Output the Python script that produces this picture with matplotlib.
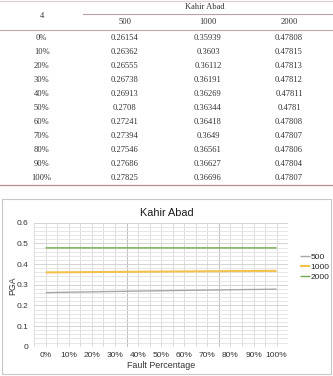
import matplotlib
matplotlib.use("Agg")
import matplotlib.pyplot as plt
from matplotlib.lines import Line2D
from matplotlib.patches import Rectangle
from matplotlib.ticker import MultipleLocator, FixedLocator

# ---- data ----
site = "Kahir Abad"
corner_label = "4"
categories = ["0%", "10%", "20%", "30%", "40%", "50%", "60%", "70%", "80%", "90%", "100%"]
series_names = ["500", "1000", "2000"]
pga_500 = [0.26154, 0.26362, 0.26555, 0.26738, 0.26913, 0.2708, 0.27241, 0.27394, 0.27546, 0.27686, 0.27825]
pga_1000 = [0.35939, 0.3603, 0.36112, 0.36191, 0.36269, 0.36344, 0.36418, 0.3649, 0.36561, 0.36627, 0.36696]
pga_2000 = [0.47808, 0.47815, 0.47813, 0.47812, 0.47811, 0.4781, 0.47808, 0.47807, 0.47806, 0.47804, 0.47807]
series = [pga_500, pga_1000, pga_2000]
colors = ["#a6a6a6", "#f2c14e", "#6fa84a"]
widths = [1.0, 1.5, 1.0]
y_ticks = [0, 0.1, 0.2, 0.3, 0.4, 0.5, 0.6]
y_tick_labels = ["0", "0.1", "0.2", "0.3", "0.4", "0.5", "0.6"]

W, H = 333, 376
fig = plt.figure(figsize=(W / 100, H / 100), dpi=100)

def fx(x):
    return x / W

def fy(y):
    return 1 - y / H

serif = ["Liberation Serif", "DejaVu Serif"]
sans = ["Liberation Sans", "DejaVu Sans"]
tcol = "#333333"

# ---- table ----
def hline(x0, x1, y, color, lw=0.8):
    fig.add_artist(Line2D([fx(x0), fx(x1)], [fy(y), fy(y)], transform=fig.transFigure,
                          color=color, lw=lw))

hline(0, W, 1.0, "#dccfcf", 0.9)
hline(83, W, 14.0, "#b7a3a3", 0.8)
hline(0, W, 30.0, "#c4a6a6", 0.8)
hline(0, W, 185.0, "#b98c8c", 0.9)

col_x = [41.7, 125, 208, 289]
tfs = 6.1
fig.text(fx(col_x[0]), fy(15.7), corner_label, ha="center", va="center", fontsize=tfs,
         family=serif, color=tcol)
fig.text(fx(205), fy(6.7), site, ha="center", va="center", fontsize=tfs, family=serif, color=tcol)
for name, cx in zip(series_names, col_x[1:]):
    fig.text(fx(cx), fy(21.7), name, ha="center", va="center", fontsize=tfs, family=serif, color=tcol)

row_y0, row_dy = 37.7, 14.06
for i, cat in enumerate(categories):
    ry = row_y0 + i * row_dy
    fig.text(fx(col_x[0]), fy(ry), cat, ha="center", va="center", fontsize=tfs, family=serif, color=tcol)
    for s, cx in zip(series, col_x[1:]):
        fig.text(fx(cx), fy(ry), str(s[i]), ha="center", va="center", fontsize=tfs,
                 family=serif, color=tcol)

# ---- chart frame ----
fig.add_artist(Rectangle((fx(2), fy(374)), fx(331) - fx(2), fy(199) - fy(374),
                         transform=fig.transFigure, fill=False, edgecolor="#c8c8c8", lw=0.8))

left, right, top, bottom = 34.1, 288.2, 222.7, 346.7
ax = fig.add_axes([fx(left), fy(bottom), fx(right) - fx(left), fy(top) - fy(bottom)])
ax.set_xlim(-0.5, len(categories) - 0.5)
ax.set_ylim(0, 0.6)
for sp in ax.spines.values():
    sp.set_visible(False)

# gridlines
ax.yaxis.set_minor_locator(MultipleLocator(0.02))
ax.yaxis.set_major_locator(FixedLocator(y_ticks))
ax.grid(axis="y", which="minor", color="#e2e2e2", lw=0.6)
ax.grid(axis="y", which="major", color="#d4d4d4", lw=0.7)
n = len(categories)
for k in range(2 * n + 1):
    xv = -0.5 + k * 0.5
    c = "#d8d8d8"
    if abs(xv - 3.5) < 1e-9 or abs(xv - 7.5) < 1e-9:
        c = "#b4b4b4"
    ax.axvline(xv, color=c, lw=0.6, zorder=0.5)
ax.set_axisbelow(True)

xs = list(range(n))
handles = []
for s, name, c, w in zip(series, series_names, colors, widths):
    h, = ax.plot(xs, s, color=c, lw=w, label=name, solid_capstyle="butt", zorder=3)
    handles.append(h)

ax.set_xticks(xs)
ax.set_xticklabels(categories, fontsize=6.0, family=sans, color="#333333")
ax.set_yticks(y_ticks)
ax.set_yticklabels(y_tick_labels, fontsize=6.0, family=sans, color="#333333")
ax.tick_params(axis="both", which="both", length=0)
ax.tick_params(axis="x", pad=4.0)
ax.tick_params(axis="y", pad=4.3)

fig.text(fx(167), fy(213.5), site, ha="center", va="center", fontsize=7.8, family=sans,
         color="#1a1a1a")
fig.text(fx(161), fy(365), "Fault Percentage", ha="center", va="center", fontsize=6.4,
         family=sans, color="#333333")
fig.text(fx(12.7), fy(286), "PGA", ha="center", va="center", rotation=90, fontsize=6.3,
         family=sans, color="#333333")

leg = ax.legend(handles=handles, loc="center left", bbox_to_anchor=(fx(300), fy(267.3)),
                bbox_transform=fig.transFigure, frameon=False, handlelength=1.2,
                handletextpad=0.05, labelspacing=0.25, borderpad=0, borderaxespad=0,
                prop={"family": sans, "size": 6.0})
for t in leg.get_texts():
    t.set_color("#262626")

fig.savefig("out.png", dpi=100)
